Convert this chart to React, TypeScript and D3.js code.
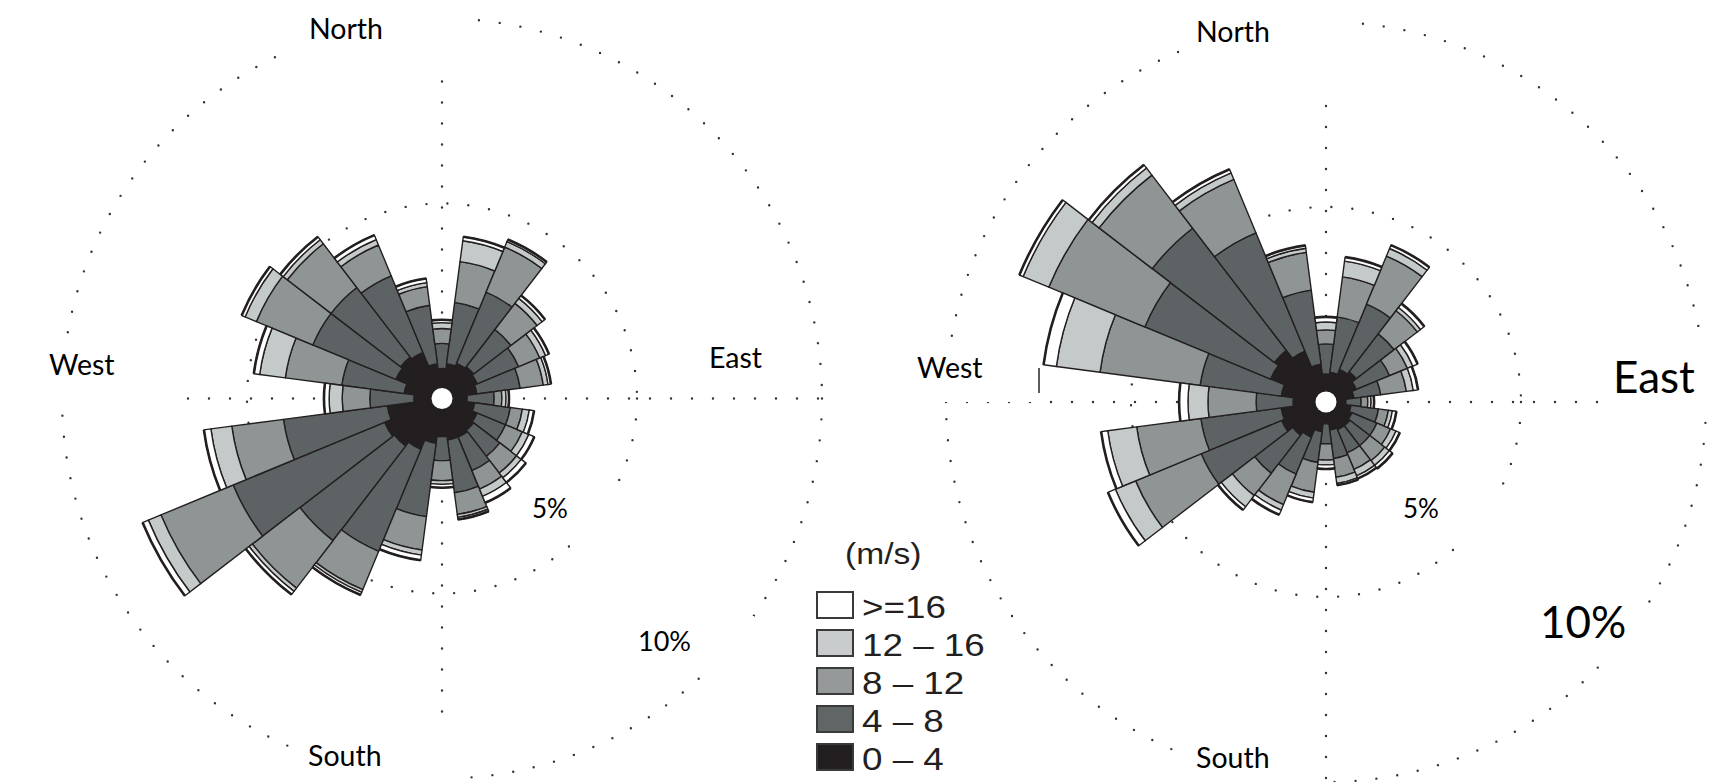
import React from "react";
import * as d3 from "d3";

// ---- data ----
const directions = [0, 15, 30, 45, 60, 75, 90, 105, 120, 135, 150, 165, 180, 195, 210, 225, 240, 255, 270, 285, 300, 315, 330, 345];
const speedKeys = ["s0_4", "s4_8", "s8_12", "s12_16", "s16"];
const legendLabels = [">=16", "12 \u2013 16", "8 \u2013 12", "4 \u2013 8", "0 \u2013 4"];
const legendTitle = "(m/s)";
const ringTicks = [5, 10];

// left rose, % frequency per speed class
const left0_4 = [0.54, 0.68, 0.76, 0.81, 0.76, 0.68, 0.41, 0.62, 0.76, 0.81, 0.86, 0.86, 0.76, 0.95, 1.22, 1.35, 1.41, 1.22, 0.49, 0.76, 1.08, 1.14, 1.08, 0.68];
const left4_8 = [0.68, 1.67, 2.08, 1.27, 1.21, 1.18, 0.73, 0.97, 0.83, 0.89, 0.98, 1.44, 0.65, 2.0, 2.98, 3.22, 4.43, 2.83, 1.19, 1.7, 2.43, 2.37, 2.24, 1.59];
const left8_12 = [0.4, 1.11, 1.32, 0.89, 0.62, 0.63, 0.21, 0.33, 0.49, 0.57, 0.54, 0.59, 0.54, 0.91, 1.12, 1.62, 2.11, 1.41, 0.75, 1.54, 1.65, 1.49, 0.9, 0.51];
const left12_16 = [0.16, 0.57, 0.16, 0.17, 0.17, 0.13, 0.11, 0.19, 0.19, 0.16, 0.21, 0.08, 0.1, 0.14, 0.08, 0.11, 0.37, 0.57, 0.35, 0.7, 0.33, 0.14, 0.16, 0.11];
const left16 = [0.08, 0.11, 0.06, 0.1, 0.1, 0.08, 0.08, 0.13, 0.16, 0.16, 0.19, 0.06, 0.09, 0.14, 0.08, 0.11, 0.17, 0.19, 0.14, 0.16, 0.1, 0.1, 0.13, 0.11];

// right rose
const right0_4 = [0.49, 0.54, 0.68, 0.76, 0.62, 0.49, 0.27, 0.41, 0.49, 0.54, 0.54, 0.49, 0.32, 0.54, 0.76, 0.86, 1.03, 0.95, 0.62, 0.95, 1.35, 1.49, 1.22, 0.76];
const right4_8 = [0.81, 1.51, 1.91, 1.29, 0.97, 0.73, 0.41, 0.75, 0.73, 0.68, 0.68, 0.78, 0.54, 0.84, 1.08, 1.3, 2.35, 2.19, 1.0, 2.21, 3.68, 4.16, 3.46, 2.02];
const right8_12 = [0.38, 1.09, 1.41, 0.79, 0.52, 0.7, 0.18, 0.27, 0.4, 0.51, 0.48, 0.51, 0.44, 0.81, 0.89, 0.76, 1.92, 1.75, 1.3, 2.73, 2.81, 1.81, 1.56, 1.03];
const right12_16 = [0.21, 0.43, 0.22, 0.11, 0.16, 0.19, 0.09, 0.11, 0.16, 0.16, 0.19, 0.17, 0.13, 0.16, 0.16, 0.38, 0.59, 0.79, 0.54, 1.19, 0.75, 0.24, 0.19, 0.11];
const right16 = [0.14, 0.11, 0.1, 0.13, 0.14, 0.13, 0.08, 0.11, 0.11, 0.11, 0.08, 0.05, 0.11, 0.11, 0.14, 0.11, 0.22, 0.18, 0.24, 0.35, 0.11, 0.11, 0.11, 0.08];

// ---- styles ----
const W = 1716;
const H = 782;
const fills = ["#231f20", "#5d6364", "#8f9494", "#c4c9c9", "#ffffff"];
const legendFills = ["#ffffff", "#c8cccc", "#959999", "#606566", "#231f20"];
const ink = "#231f20";
const dotColor = "#333333";
const labelFont = "Lato, 'Open Sans', sans-serif";
const legendFont = "'Liberation Sans', Arial, sans-serif";

const rScale = d3.scaleLinear().domain([0, 10]).range([10, 380]);
const rad = (deg: number) => (deg * Math.PI) / 180;
const halfWidth = 7.5;

type Box = [number, number, number, number];
type Label = { text: string; x: number; y: number; size: number };

function Rose(props: {
  cx: number;
  cy: number;
  series: number[][];
  boxes: Box[];
  labels: Label[];
  extra?: React.ReactNode;
}) {
  const { cx, cy, series, boxes, labels, extra } = props;
  const rows = directions.map((dir, i) => {
    const o: any = { dir };
    speedKeys.forEach((k, j) => (o[k] = series[j][i]));
    return o;
  });
  const stacked = d3.stack<any>().keys(speedKeys)(rows);
  const seg = d3
    .arc<any>()
    .innerRadius((d: any) => rScale(d[0]))
    .outerRadius((d: any) => rScale(d[1]))
    .startAngle((d: any) => rad(d.data.dir - halfWidth))
    .endAngle((d: any) => rad(d.data.dir + halfWidth));
  const top = stacked[stacked.length - 1];
  const rMax = rScale(10);
  const dotted = {
    fill: "none",
    stroke: dotColor,
    strokeWidth: 2.4,
    strokeDasharray: "0 21",
    strokeLinecap: "round" as const,
  };
  return (
    <g>
      <g transform={`translate(${cx},${cy})`}>
        {ringTicks.map((t) => (
          <circle key={t} r={rScale(t)} {...dotted} />
        ))}
        <line x1={0} y1={-rMax} x2={0} y2={rMax} {...dotted} />
        <line x1={-rMax} y1={0} x2={rMax} y2={0} {...dotted} />
      </g>
      {boxes.map((b, i) => (
        <rect key={i} x={b[0]} y={b[1]} width={b[2]} height={b[3]} fill="#fff" />
      ))}
      <g transform={`translate(${cx},${cy})`}>
        {stacked.map((layer, li) =>
          layer.map((d: any, i: number) => (
            <path
              key={`${li}-${i}`}
              d={seg(d) as string}
              fill={fills[li]}
              stroke={ink}
              strokeWidth={1.4}
              strokeLinejoin="round"
            />
          ))
        )}
        {top.map((d: any, i: number) => {
          const r = rScale(d[1]);
          const a = d3
            .arc<any>()
            .innerRadius(r)
            .outerRadius(r)
            .startAngle(rad(d.data.dir - halfWidth))
            .endAngle(rad(d.data.dir + halfWidth));
          return <path key={`o${i}`} d={a({}) as string} fill="none" stroke={ink} strokeWidth={2.6} />;
        })}
        <circle r={10.5} fill="#fff" />
      </g>
      {extra}
      {labels.map((l, i) => (
        <text key={i} x={l.x} y={l.y} fontFamily={labelFont} fontSize={l.size} fill="#000">
          {l.text}
        </text>
      ))}
    </g>
  );
}

function Legend() {
  const x0 = 817;
  const baselines = [618, 656, 694, 732, 770];
  return (
    <g>
      <text
        transform={`translate(845,564) scale(1.12,1)`}
        fontFamily={legendFont}
        fontSize={30}
        fill={ink}
      >
        {legendTitle}
      </text>
      {legendLabels.map((lab, i) => (
        <g key={lab}>
          <rect x={x0} y={baselines[i] - 26} width={36} height={26} fill={legendFills[i]} stroke="#3a3a3a" strokeWidth={2} />
          <text
            transform={`translate(862,${baselines[i]}) scale(1.15,1)`}
            fontFamily={legendFont}
            fontSize={32}
            fill={ink}
          >
            {lab}
          </text>
        </g>
      ))}
    </g>
  );
}

export default function App() {
  const leftSeries = [left0_4, left4_8, left8_12, left12_16, left16];
  const rightSeries = [right0_4, right4_8, right8_12, right12_16, right16];
  return (
    <svg
      width={W}
      height={H}
      viewBox={`0 0 ${W} ${H}`}
      style={{ position: "absolute", left: 0, top: 0, background: "#fff" }}
    >
      <rect width={W} height={H} fill="#fff" />
      <Rose
        cx={442}
        cy={398.5}
        series={leftSeries}
        boxes={[
          [288, 0, 182, 79],
          [298, 728, 160, 54],
          [38, 338, 137, 62],
          [580, 485, 45, 55],
          [706, 616, 48, 60],
        ]}
        labels={[
          { text: "North", x: 309, y: 39, size: 28.5 },
          { text: "West", x: 49, y: 375, size: 28.5 },
          { text: "East", x: 709, y: 368, size: 28.5 },
          { text: "South", x: 308, y: 766, size: 28.5 },
          { text: "5%", x: 532, y: 518, size: 26 },
          { text: "10%", x: 638, y: 651, size: 27 },
        ]}
      />
      <Rose
        cx={1326}
        cy={402}
        series={rightSeries}
        boxes={[
          [1180, 0, 170, 92],
          [1185, 735, 135, 47],
          [910, 345, 125, 57],
          [1603, 340, 113, 64],
          [1465, 488, 45, 54],
          [1530, 590, 115, 71],
        ]}
        extra={<line x1={1039} y1={368} x2={1039} y2={393} stroke="#333" strokeWidth={1.6} />}
        labels={[
          { text: "North", x: 1196, y: 42, size: 28.5 },
          { text: "West", x: 917, y: 378, size: 28.5 },
          { text: "East", x: 1613, y: 393, size: 44 },
          { text: "South", x: 1196, y: 768, size: 28.5 },
          { text: "5%", x: 1403, y: 518, size: 26 },
          { text: "10%", x: 1540, y: 638, size: 44 },
        ]}
      />
      <Legend />
    </svg>
  );
}
